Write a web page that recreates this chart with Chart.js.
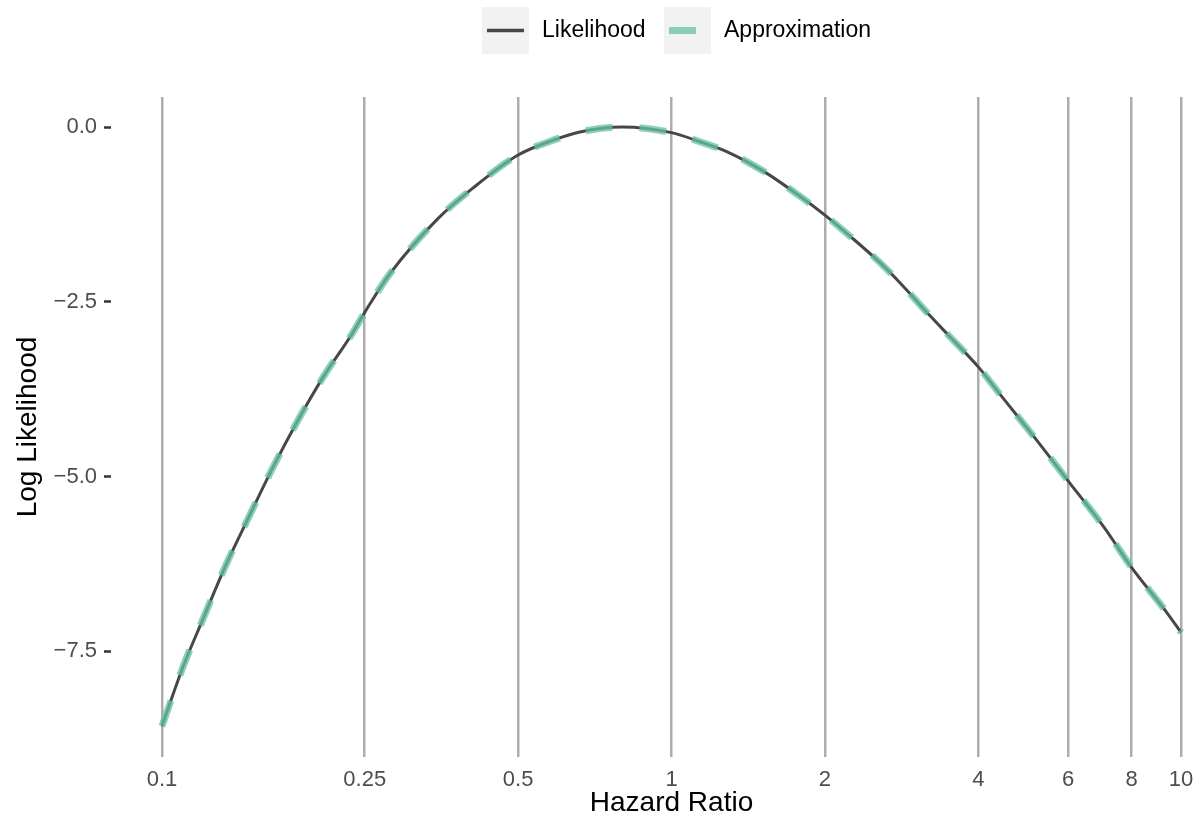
<!DOCTYPE html>
<html>
<head>
<meta charset="utf-8">
<script src="https://cdn.jsdelivr.net/npm/chart.js@4.4.1/dist/chart.umd.min.js"></script>
<style>
html,body{margin:0;padding:0;overflow:hidden;background:#ffffff;}
#wrap{position:relative;width:1240px;height:823px;}
</style>
</head>
<body>
<div id="wrap"><canvas id="c"></canvas></div>
<script>
// ---- data ----
const hazardRatio = [0.1, 0.11, 0.12, 0.133, 0.148, 0.164, 0.185, 0.207, 0.236, 0.25, 0.28, 0.348, 0.408, 0.5, 0.59, 0.661, 0.8, 1.0, 1.137, 1.283, 1.514, 1.787, 2.0, 2.24, 2.566, 2.81, 3.217, 3.52, 4.0, 4.41, 5.17, 6.0, 7.04, 8.0, 9.37, 10];
const likelihood = [-8.57, -7.72, -7.06, -6.29, -5.58, -4.91, -4.19, -3.58, -2.96, -2.65, -2.10, -1.31, -0.87, -0.40, -0.18, -0.07, 0.0, -0.08, -0.21, -0.35, -0.63, -0.99, -1.26, -1.56, -1.94, -2.23, -2.70, -3.00, -3.43, -3.82, -4.45, -5.06, -5.71, -6.30, -6.94, -7.23];
const approximation = [-8.57, -7.72, -7.06, -6.29, -5.58, -4.91, -4.19, -3.58, -2.96, -2.65, -2.10, -1.31, -0.87, -0.40, -0.18, -0.07, 0.0, -0.08, -0.21, -0.35, -0.63, -0.99, -1.26, -1.56, -1.94, -2.23, -2.70, -3.00, -3.43, -3.82, -4.45, -5.06, -5.71, -6.30, -6.94, -7.23];
const seriesNames = ['Likelihood', 'Approximation'];
const xTicks = [0.1, 0.25, 0.5, 1, 2, 4, 6, 8, 10];
const xTickLabels = ['0.1', '0.25', '0.5', '1', '2', '4', '6', '8', '10'];
const yTicks = [-7.5, -5, -2.5, 0];
const yTickLabels = ['\u22127.5', '\u22125.0', '\u22122.5', '0.0'];
const xLimits = [0.07943, 12.589];
const yLimits = [-9.01, 0.43];
const xTitle = 'Hazard Ratio';
const yTitle = 'Log Likelihood';

// ---- styling ----
const FONT = "'Liberation Sans', Arial, Helvetica, sans-serif";
Chart.defaults.font.family = FONT;
const likeColor = '#474747';
const approxColor = 'rgba(102,194,165,0.75)';

const ggLegend = {
  id: 'ggLegend',
  afterDraw(chart) {
    const ctx = chart.ctx;
    const ds = chart.data.datasets;
    const keys = [{x: 482, i: 0}, {x: 664, i: 1}];
    ctx.save();
    keys.forEach(k => {
      const d = ds[k.i];
      ctx.fillStyle = '#f2f2f2';
      ctx.fillRect(k.x, 7, 47, 47);
      ctx.save();
      ctx.beginPath();
      ctx.rect(k.x, 7, 47, 47);
      ctx.clip();
      ctx.strokeStyle = d.borderColor;
      ctx.lineWidth = k.i === 0 ? 3.5 : 7;
      ctx.lineCap = 'butt';
      ctx.setLineDash(d.borderDash || []);
      ctx.beginPath();
      ctx.moveTo(k.x + 5, 30.5);
      ctx.lineTo(k.x + 42, 30.5);
      ctx.stroke();
      ctx.restore();
      ctx.fillStyle = '#000000';
      ctx.font = '23px ' + FONT;
      ctx.textBaseline = 'middle';
      ctx.textAlign = 'left';
      ctx.fillText(d.label, k.x + 60, 31);
    });
    ctx.restore();
  }
};

new Chart(document.getElementById('c'), {
  type: 'line',
  data: {
    datasets: [
      {
        label: seriesNames[0],
        data: hazardRatio.map((h, i) => ({x: h, y: likelihood[i]})),
        borderColor: likeColor,
        borderWidth: 3,
        pointRadius: 0,
        cubicInterpolationMode: 'monotone',
        fill: false,
        order: 2
      },
      {
        label: seriesNames[1],
        data: hazardRatio.map((h, i) => ({x: h, y: approximation[i]})),
        borderColor: approxColor,
        borderWidth: 7,
        borderDash: [27, 27],
        borderCapStyle: 'butt',
        pointRadius: 0,
        cubicInterpolationMode: 'monotone',
        fill: false,
        order: 1
      }
    ]
  },
  options: {
    responsive: true,
    maintainAspectRatio: false,
    animation: false,
    events: [],
    layout: {padding: {top: 97, left: 0, right: 8, bottom: 0}},
    plugins: {legend: {display: false}, tooltip: {enabled: false}},
    scales: {
      x: {
        type: 'logarithmic',
        min: xLimits[0],
        max: xLimits[1],
        afterBuildTicks(scale) { scale.ticks = xTicks.map(v => ({value: v})); },
        afterFit(scale) { scale.height = 66; },
        grid: {color: '#adadad', lineWidth: 2.5, drawTicks: false},
        border: {display: false},
        ticks: {
          autoSkip: false, maxRotation: 0, minRotation: 0, padding: 10,
          color: '#4d4d4d', font: {size: 22},
          callback: (v) => { const i = xTicks.indexOf(v); return i >= 0 ? xTickLabels[i] : ''; }
        },
        title: {display: true, text: xTitle, color: '#000000', font: {size: 28}, padding: {top: 0, bottom: 3}}
      },
      y: {
        type: 'linear',
        min: yLimits[0],
        max: yLimits[1],
        afterBuildTicks(scale) { scale.ticks = yTicks.map(v => ({value: v})); },
        afterFit(scale) { scale.width = 111; },
        grid: {drawOnChartArea: false, drawTicks: true, tickLength: 7, tickWidth: 2.5, tickColor: '#333333'},
        border: {display: false},
        ticks: {
          padding: 7, color: '#4d4d4d', font: {size: 22},
          callback: (v) => { const i = yTicks.indexOf(v); return i >= 0 ? yTickLabels[i] : ''; }
        },
        title: {display: true, text: yTitle, color: '#000000', font: {size: 28}, padding: {top: 11, bottom: 0}}
      }
    }
  },
  plugins: [ggLegend]
});
</script>
</body>
</html>
